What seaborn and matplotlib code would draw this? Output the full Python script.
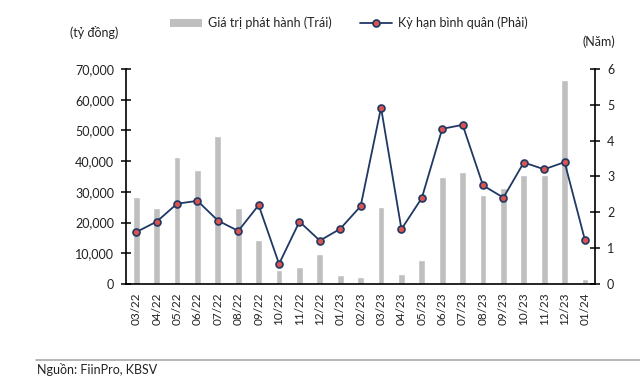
import matplotlib
matplotlib.use("Agg")
import matplotlib.pyplot as plt
import matplotlib.ticker as mticker
from matplotlib.lines import Line2D
from matplotlib.patches import Patch
import seaborn as sns
import pandas as pd

months = ["03/22", "04/22", "05/22", "06/22", "07/22", "08/22", "09/22", "10/22",
          "11/22", "12/22", "01/23", "02/23", "03/23", "04/23", "05/23", "06/23",
          "07/23", "08/23", "09/23", "10/23", "11/23", "12/23", "01/24"]
issuance = [28300, 24800, 41400, 37000, 48300, 24800, 14300, 4500,
            5400, 9700, 3000, 2400, 25100, 3200, 7700, 34900,
            36300, 29000, 31400, 35600, 35600, 66500, 1600]
tenor = [1.45, 1.74, 2.24, 2.32, 1.77, 1.48, 2.20, 0.56,
         1.74, 1.21, 1.54, 2.17, 4.92, 1.53, 2.40, 4.33,
         4.44, 2.75, 2.41, 3.39, 3.20, 3.40, 1.22]

bar_label = "Giá trị phát hành (Trái)"
line_label = "Kỳ hạn bình quân (Phải)"

df = pd.DataFrame({"month": months, "issuance": issuance, "tenor": tenor})

sns.set_theme(style="white")
plt.rcParams["font.family"] = ["Lato", "DejaVu Sans"]

bar_color = "#bfbfbf"
navy = "#1f3864"
red = "#d9534f"
txt = "#222222"

fig = plt.figure(figsize=(6.4, 3.81), dpi=100)
ax = fig.add_axes([0.197, 0.2546, 0.733, 0.5644])
sns.barplot(data=df, x="month", y="issuance", ax=ax, color=bar_color,
            width=0.33, saturation=1, order=months)
ax2 = ax.twinx()
sns.pointplot(data=df, x="month", y="tenor", ax=ax2, color=navy, order=months,
              markers="o", markersize=5, linewidth=1.3,
              markerfacecolor=red, markeredgecolor=navy, markeredgewidth=1.2)

ax.set_xlim(-0.5, len(months) - 0.5)
ax.set_ylim(0, 70000)
ax2.set_ylim(0, 6)
ax.set_yticks(range(0, 70001, 10000))
ax.yaxis.set_major_formatter(mticker.FuncFormatter(lambda v, p: f"{int(v):,}"))
ax2.set_yticks(range(0, 7))

ax.set_xticks(range(len(months)))
ax.set_xticklabels(months, rotation=90)
ax.set_xlabel("")
ax.set_ylabel("")
ax2.set_xlabel("")
ax2.set_ylabel("")

for a in (ax, ax2):
    for s in a.spines.values():
        s.set_visible(False)
ax.spines["left"].set_visible(True)
ax.spines["bottom"].set_visible(True)
ax2.spines["right"].set_visible(True)
for s in (ax.spines["left"], ax.spines["bottom"], ax2.spines["right"]):
    s.set_color("black")
    s.set_linewidth(1.2)

ax.tick_params(axis="y", direction="inout", length=7, width=1.1, colors="black",
               labelcolor=txt, labelsize=9, pad=5)
ax2.tick_params(axis="y", direction="inout", length=7, width=1.1, colors="black",
                labelcolor=txt, labelsize=9, pad=5)
ax.tick_params(axis="x", which="major", length=0, labelsize=8.5, labelcolor=txt, pad=6)
ax.set_xticks([i + 0.5 for i in range(len(months) - 1)], minor=True)
ax.tick_params(axis="x", which="minor", direction="in", length=4, width=1.1, colors="black")
ax.grid(False)
ax2.grid(False)

handles = [Patch(facecolor=bar_color, edgecolor="none"),
           Line2D([], [], color=navy, linewidth=1.3, marker="o", markersize=5,
                  markerfacecolor=red, markeredgecolor=navy, markeredgewidth=1.2)]
fig.legend(handles, [bar_label, line_label], loc="center", bbox_to_anchor=(0.545, 0.94),
           ncol=2, frameon=False, fontsize=9, handlelength=2.6, handleheight=0.6,
           columnspacing=2.2, handletextpad=0.5, labelcolor=txt)

fig.text(0.11, 0.915, "(tỷ đồng)", fontsize=9, color=txt, ha="left", va="center")
fig.text(0.91, 0.89, "(Năm)", fontsize=9, color=txt, ha="left", va="center")

fig.add_artist(Line2D([0.056, 1.0], [0.055 + 0.0, 0.055 + 0.0], transform=fig.transFigure,
                      color="#aaaaaa", linewidth=1.2))
fig.text(0.058, 0.031, "Nguồn: FiinPro, KBSV", fontsize=9, color=txt, ha="left", va="center")

fig.savefig("out.png", dpi=100)
